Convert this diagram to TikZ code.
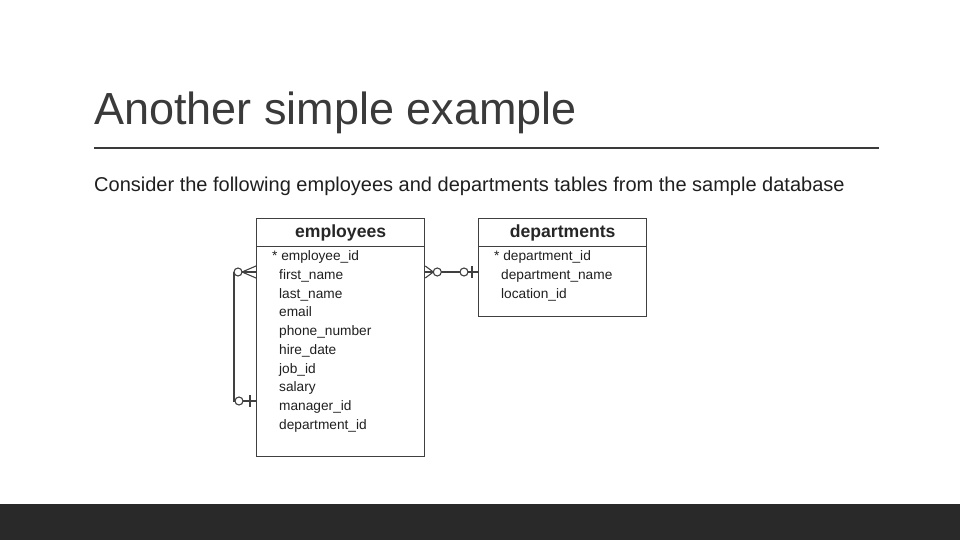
\documentclass[tikz,border=0pt]{standalone}
\usepackage{fontspec}
\setmainfont{Liberation Sans}
\usepackage{tikz}

\definecolor{titlegray}{HTML}{3A3A3A}
\definecolor{bargray}{HTML}{292929}
\definecolor{linegray}{HTML}{404040}

\begin{document}
\begin{tikzpicture}[x=1pt, y=-1pt,
    tablebox/.style={draw=linegray, line width=1.3pt, minimum width=168pt, anchor=north west, inner sep=0pt},
    headtext/.style={font=\fontsize{17.6}{19}\selectfont\bfseries, text=black!85},
    rowtext/.style={font=\fontsize{13.7}{15}\selectfont, text=black!88, anchor=base west, inner sep=0pt},
    relline/.style={draw=linegray, line width=1.1pt}]
    \useasboundingbox (0,0) rectangle (960,540);

    % Titre et filet
    \node[anchor=base west, inner sep=0pt, text=titlegray, font=\fontsize{45}{50}\selectfont] (titre) at (94,125) {Another simple example};
    \draw[titlegray, line width=1.6pt] (94,148) -- (879,148);
    \node[anchor=base west, inner sep=0pt, text=black!88, font=\fontsize{20}{22}\selectfont] (intro) at (94,191) {Consider the following employees and departments tables from the sample database};

    % Bande sombre en bas
    \fill[bargray] (0,504) rectangle (960,540);

    % Table employees
    \node[tablebox, minimum height=238pt] (emp) at (256,218) {};
    \node[tablebox, minimum height=28pt] (emphead) at (256,218) {};
    \node[headtext] (empname) at (emphead.center) {employees};
    \node[rowtext] (e1) at (272,260) {* employee\_id};
    \node[rowtext] (e2) at (279,279) {first\_name};
    \node[rowtext] (e3) at (279,298) {last\_name};
    \node[rowtext] (e4) at (279,316) {email};
    \node[rowtext] (e5) at (279,335) {phone\_number};
    \node[rowtext] (e6) at (279,354) {hire\_date};
    \node[rowtext] (e7) at (279,373) {job\_id};
    \node[rowtext] (e8) at (279,391) {salary};
    \node[rowtext] (e9) at (279,410) {manager\_id};
    \node[rowtext] (e10) at (279,429) {department\_id};

    % Table departments
    \node[tablebox, minimum height=98pt] (dep) at (478,218) {};
    \node[tablebox, minimum height=28pt] (dephead) at (478,218) {};
    \node[headtext] (depname) at (dephead.center) {departments};
    \node[rowtext] (d1) at (494,260) {* department\_id};
    \node[rowtext] (d2) at (501,279) {department\_name};
    \node[rowtext] (d3) at (501,298) {location\_id};

    % Points d'attache des relations
    \coordinate (empL1) at (emp.west |- 0,272);
    \coordinate (empL2) at (emp.west |- 0,401);
    \coordinate (empR) at (emp.east |- 0,272);
    \coordinate (depL) at (dep.west |- 0,272);

    % Relation manager : plusieurs (haut) vers zero ou un (bas)
    \draw[relline] (234,272) -- (234,401) -- (empL2);
    \draw[relline] (empL1) -- ++(-14,0);
    \draw[relline] (empL1) ++(0,-6) -- ++(-14,6) -- ++(14,6);
    \draw[relline, fill=white] (empL1) ++(-18,0) circle (4);
    \draw[relline, fill=white] (empL2) ++(-17,0) circle (4);
    \draw[relline] (empL2) ++(-6,-6) -- ++(0,12);

    % Relation departement : plusieurs employes vers zero ou un departement
    \draw[relline] (empR) -- (depL);
    \draw[relline] (empR) ++(0,-6) -- ++(8,6) -- ++(-8,6);
    \draw[relline, fill=white] (empR) ++(12,0) circle (4);
    \draw[relline, fill=white] (depL) ++(-14,0) circle (4);
    \draw[relline] (depL) ++(-6,-6) -- ++(0,12);
\end{tikzpicture}
\end{document}
